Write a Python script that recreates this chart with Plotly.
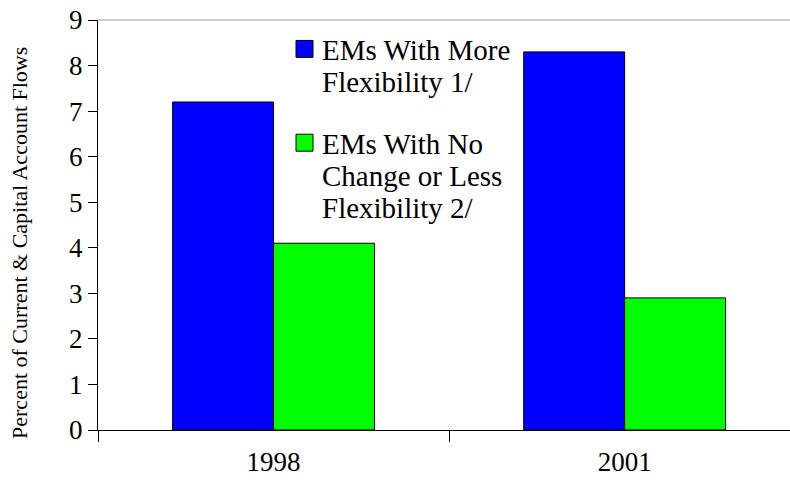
import plotly.graph_objects as go

categories = ["1998", "2001"]
more_flex = [7.2, 8.3]
less_flex = [4.1, 2.9]
series_names = ["EMs With More Flexibility 1/", "EMs With No Change or Less Flexibility 2/"]
legend_lines = [["EMs With More", "Flexibility 1/"], ["EMs With No", "Change or Less", "Flexibility 2/"]]
y_ticks = [0, 1, 2, 3, 4, 5, 6, 7, 8, 9]
y_title = "Percent of Current & Capital Account Flows"

FONT = "Liberation Serif"
BLUE = "#0000FF"
GREEN = "#00FF00"

fig = go.Figure()
fig.add_trace(go.Bar(x=categories, y=more_flex, name=series_names[0],
                     marker=dict(color=BLUE, line=dict(color="black", width=1))))
fig.add_trace(go.Bar(x=categories, y=less_flex, name=series_names[1],
                     marker=dict(color=GREEN, line=dict(color="black", width=1))))

W, H = 790, 497
L, R, T, B = 98, 0, 19.5, 66.5
pw = W - L - R
ph = H - T - B

def px_x(x):
    return (x - L) / pw

def px_y(y):
    return 1 - (y - T) / ph

# legend drawn manually (larger swatches than Plotly's fixed legend symbol)
for color, lines, top in [(BLUE, legend_lines[0], 40), (GREEN, legend_lines[1], 134)]:
    fig.add_shape(type="rect", xref="paper", yref="paper",
                  x0=px_x(296), x1=px_x(313), y0=px_y(top + 17), y1=px_y(top),
                  fillcolor=color, line=dict(color="black", width=1))
    for i, line in enumerate(lines):
        fig.add_annotation(xref="paper", yref="paper", x=px_x(320), y=px_y(top + 10 + 32 * i),
                           text=line, showarrow=False, xanchor="left", yanchor="middle",
                           font=dict(family=FONT, size=29, color="black"))

# y-axis title
fig.add_annotation(xref="paper", yref="paper", x=px_x(20), y=px_y(243),
                   text=y_title, textangle=-90, showarrow=False,
                   xanchor="center", yanchor="middle",
                   font=dict(family=FONT, size=22, color="black"))

# light top border
fig.add_shape(type="line", xref="paper", yref="paper", x0=0, x1=1, y0=1, y1=1,
              line=dict(color="#a0a0a0", width=1))

fig.update_layout(
    width=W, height=H,
    margin=dict(l=L, r=R, t=T, b=B, pad=0, autoexpand=False),
    paper_bgcolor="white", plot_bgcolor="white",
    barmode="group", bargap=0.425, bargroupgap=0,
    showlegend=False,
    font=dict(family=FONT, color="black"),
)
fig.update_xaxes(
    type="category", range=[-0.5, 1.471],
    showline=True, linecolor="black", linewidth=1,
    ticks="outside", tickson="boundaries", ticklen=11, tickcolor="black",
    tickfont=dict(family=FONT, size=27, color="black"),
    ticklabelstandoff=8,
    showgrid=False, zeroline=False, automargin=False,
)
fig.update_yaxes(
    range=[0, 9], tickvals=y_ticks,
    showline=True, linecolor="black", linewidth=1,
    ticks="outside", ticklen=9, tickcolor="black",
    tickfont=dict(family=FONT, size=27, color="black"),
    showgrid=False, zeroline=False, automargin=False,
)

fig.write_html("out.html", config={"displayModeBar": False},
               post_script="document.body.style.margin='0';")
